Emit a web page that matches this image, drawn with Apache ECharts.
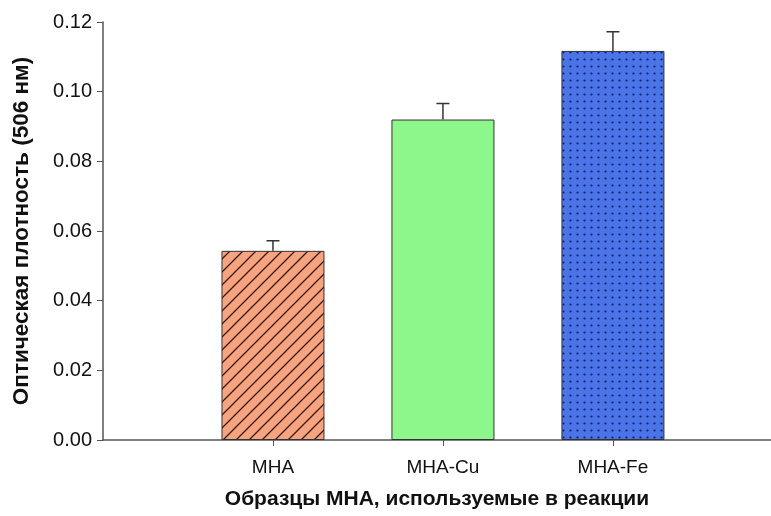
<!DOCTYPE html>
<html>
<head>
<meta charset="utf-8">
<script src="https://cdn.jsdelivr.net/npm/echarts@6/dist/echarts.min.js"></script>
<style>
html,body{margin:0;padding:0;background:#fff;}
#chart{width:771px;height:516px;}
</style>
</head>
<body>
<div id="chart"></div>
<script>
var categories = ['МНА', 'МНА-Cu', 'МНА-Fe'];
var positions = [1, 2, 3];
var values = [0.0543, 0.0920, 0.1117];
var errors = [0.0029, 0.0046, 0.0055];
var yTicks = [0, 0.02, 0.04, 0.06, 0.08, 0.10, 0.12];

function hatchPattern(bg, fg) {
  var s = 13, c = document.createElement('canvas');
  c.width = s; c.height = s;
  var g = c.getContext('2d');
  g.fillStyle = bg; g.fillRect(0, 0, s, s);
  g.strokeStyle = fg; g.lineWidth = 1.3;
  g.beginPath();
  g.moveTo(-1, s + 1); g.lineTo(s + 1, -1);
  g.moveTo(-1, 1); g.lineTo(1, -1);
  g.moveTo(s - 1, s + 1); g.lineTo(s + 1, s - 1);
  g.stroke();
  return c;
}
function dotPattern(bg, fg) {
  var s = 7, c = document.createElement('canvas');
  c.width = s; c.height = s;
  var g = c.getContext('2d');
  g.fillStyle = bg; g.fillRect(0, 0, s, s);
  g.fillStyle = fg;
  g.beginPath(); g.arc(3.5, 3.5, 1.1, 0, Math.PI * 2); g.fill();
  return c;
}
function solid(bg) {
  var c = document.createElement('canvas'); c.width = 4; c.height = 4;
  var g = c.getContext('2d'); g.fillStyle = bg; g.fillRect(0, 0, 4, 4); return c;
}
var fills = [
  {image: hatchPattern('#F6A37F', '#3a1a10'), repeat: 'repeat'},
  {image: solid('#8DF78B'), repeat: 'repeat'},
  {image: dotPattern('#4A74E8', '#142060'), repeat: 'repeat'}
];

var barData = values.map(function (v, i) {
  return {value: [positions[i], v], itemStyle: {color: fills[i]}};
});
var errData = values.map(function (v, i) { return [positions[i], v, v + errors[i]]; });

var chart = echarts.init(document.getElementById('chart'), null, {renderer: 'canvas'});
chart.setOption({
  animation: false,
  backgroundColor: '#fff',
  grid: {left: 103, right: 0, top: 22, bottom: 76, containLabel: false, outerBoundsMode: 'none'},
  xAxis: {
    type: 'value', min: 0, max: 3.93, interval: 1,
    splitLine: {show: false},
    axisLine: {show: true, onZero: false, lineStyle: {color: '#555', width: 1.5}},
    axisTick: {show: true, customValues: positions, length: 6, lineStyle: {color: '#555'}},
    axisLabel: {
      customValues: positions, margin: 18,
      fontFamily: 'Liberation Sans, Arial', fontSize: 19, color: '#111',
      formatter: function (v) { var i = positions.indexOf(v); return i >= 0 ? categories[i] : ''; }
    },
    name: 'Образцы МНА, используемые в реакции',
    nameLocation: 'middle', nameGap: 49,
    nameTextStyle: {fontFamily: 'Liberation Sans, Arial', fontWeight: 'bold', fontSize: 21, color: '#111'}
  },
  yAxis: {
    type: 'value', min: 0, max: 0.12, interval: 0.02,
    splitLine: {show: false},
    axisLine: {show: true, lineStyle: {color: '#555', width: 1.5}},
    axisTick: {show: true, length: 6, lineStyle: {color: '#555'}},
    axisLabel: {
      margin: 11, fontFamily: 'Liberation Sans, Arial', fontSize: 20, color: '#111',
      formatter: function (v) { return v.toFixed(2); }
    },
    name: 'Оптическая плотность (506 нм)',
    nameLocation: 'middle', nameGap: 70,
    nameTextStyle: {fontFamily: 'Liberation Sans, Arial', fontWeight: 'bold', fontSize: 22.5, color: '#111'}
  },
  series: [
    {
      type: 'bar', data: barData, barWidth: 103,
      itemStyle: {borderColor: '#333', borderWidth: 1}
    },
    {
      type: 'custom', data: errData, z: 5,
      renderItem: function (params, api) {
        var x = api.value(0);
        var base = api.coord([x, api.value(1)]);
        var top = api.coord([x, api.value(2)]);
        var hw = 6.5;
        return {
          type: 'group',
          children: [
            {type: 'line', shape: {x1: base[0], y1: base[1], x2: top[0], y2: top[1]}, style: {stroke: '#333', lineWidth: 1.5}},
            {type: 'line', shape: {x1: top[0] - hw, y1: top[1], x2: top[0] + hw, y2: top[1]}, style: {stroke: '#333', lineWidth: 1.5}}
          ]
        };
      }
    }
  ]
});
</script>
</body>
</html>
